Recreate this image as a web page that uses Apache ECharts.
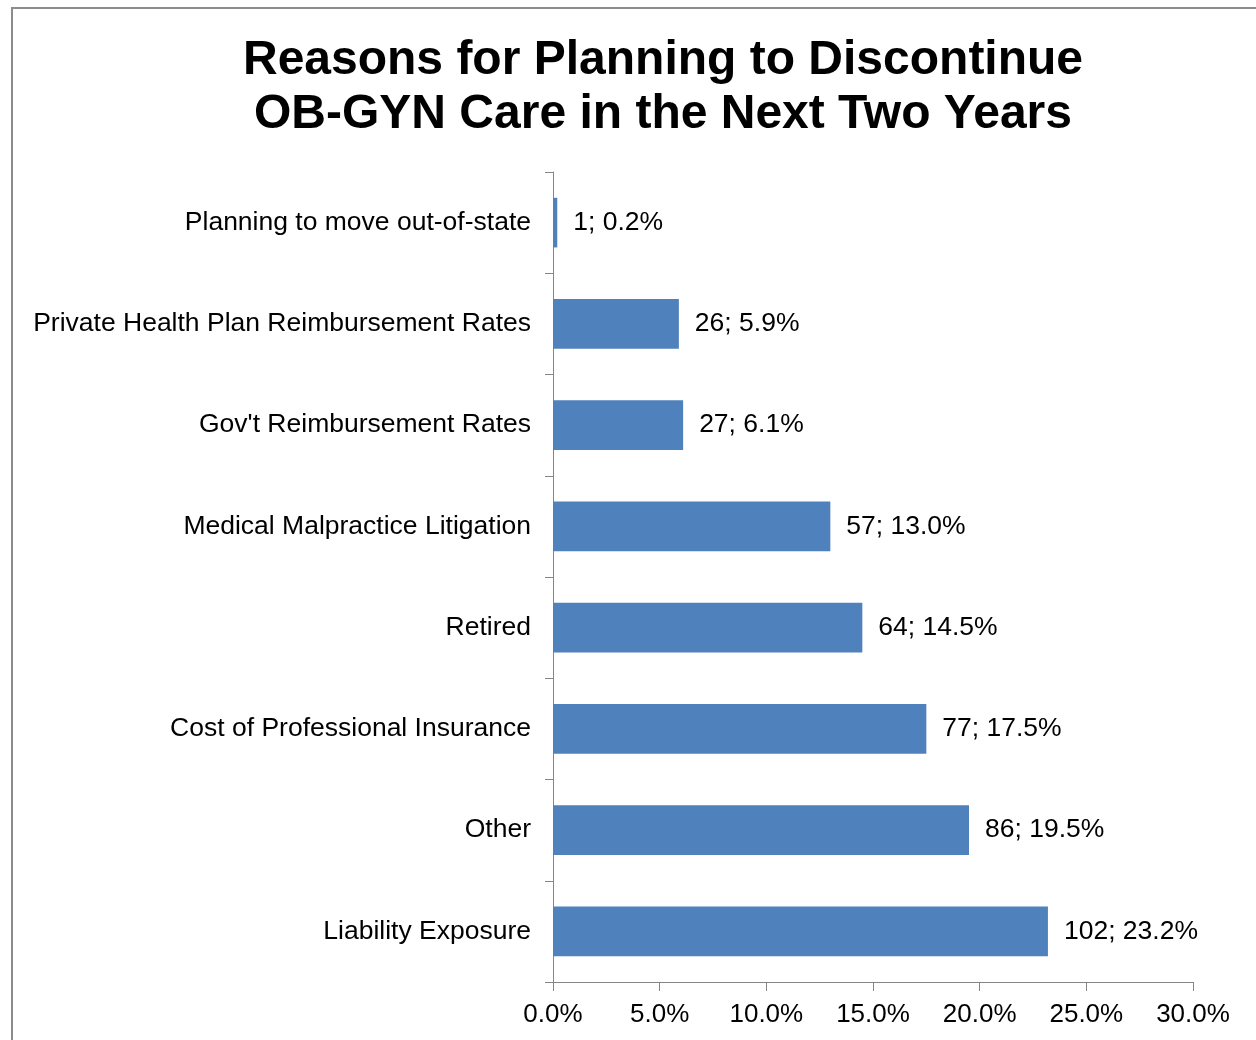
<!DOCTYPE html>
<html>
<head>
<meta charset="utf-8">
<script src="https://cdn.jsdelivr.net/npm/echarts@6/dist/echarts.min.js"></script>
<style>
  html, body { margin: 0; padding: 0; background: #fff; }
  #chart { width: 1256px; height: 1040px; }
</style>
</head>
<body>
<div id="chart"></div>
<script>
// top to bottom, as in the picture
const categories = [
  'Planning to move out-of-state',
  'Private Health Plan Reimbursement Rates',
  "Gov't Reimbursement Rates",
  'Medical Malpractice Litigation',
  'Retired',
  'Cost of Professional Insurance',
  'Other',
  'Liability Exposure'
]
const counts = [1, 26, 27, 57, 64, 77, 86, 102]
const percents = [0.2, 5.9, 6.1, 13.0, 14.5, 17.5, 19.5, 23.2]

const font = '"Liberation Sans", Arial, sans-serif'
const axisGray = '#868686'

const chart = echarts.init(document.getElementById('chart'))

const option = {
  backgroundColor: '#fff',
  animation: false,
  title: {
    text: 'Reasons for Planning to Discontinue\nOB-GYN Care in the Next Two Years',
    left: 658,
    top: 29,
    textAlign: 'center',
    textStyle: {
      fontFamily: font,
      fontWeight: 'bold',
      fontSize: 48,
      lineHeight: 54,
      color: '#000'
    }
  },
  graphic: [
    {
      type: 'rect',
      shape: { x: 12, y: 8, width: 1400, height: 1200 },
      style: { fill: 'none', stroke: '#8c8c8c', lineWidth: 2 },
      silent: true
    }
  ],
  grid: {
    left: 553,
    right: 63,
    top: 172,
    bottom: 58
  },
  xAxis: {
    type: 'value',
    min: 0,
    max: 30,
    interval: 5,
    axisLine: { show: true, lineStyle: { color: axisGray, width: 1 } },
    axisTick: { show: true, length: 9, lineStyle: { color: axisGray } },
    splitLine: { show: false },
    axisLabel: {
      margin: 20,
      fontFamily: font,
      fontSize: 26,
      color: '#000',
      formatter: (v) => v.toFixed(1) + '%'
    }
  },
  yAxis: {
    type: 'category',
    data: categories,
    inverse: true,
    axisLine: { show: true, lineStyle: { color: axisGray, width: 1 } },
    axisTick: { show: true, length: 8, lineStyle: { color: axisGray } },
    axisLabel: {
      margin: 22,
      fontFamily: font,
      fontSize: 26.5,
      color: '#000'
    }
  },
  series: [
    {
      type: 'bar',
      data: percents,
      barWidth: '49%',
      itemStyle: { color: '#4F81BD' },
      label: {
        show: true,
        position: 'right',
        distance: 16,
        fontFamily: font,
        fontSize: 26.5,
        color: '#000',
        formatter: (p) => counts[p.dataIndex] + '; ' + percents[p.dataIndex].toFixed(1) + '%'
      }
    }
  ]
}

chart.setOption(option)
</script>
</body>
</html>
